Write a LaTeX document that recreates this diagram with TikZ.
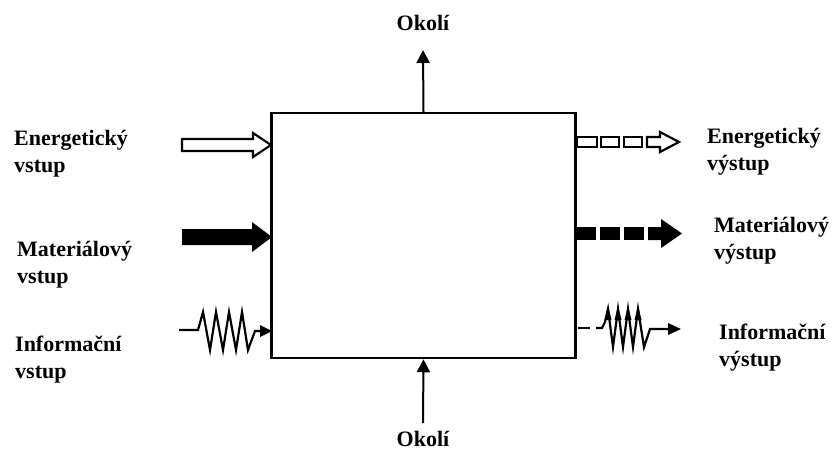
\documentclass[tikz,border=0pt]{standalone}
\usepackage{fontspec}
\setmainfont{Liberation Serif}
\usetikzlibrary{arrows.meta}
\begin{document}
\begin{tikzpicture}[x=1pt,y=-1pt,
  lbl/.style={anchor=base west,inner sep=0pt,align=left,font=\fontsize{22}{27}\selectfont\bfseries},
  envlbl/.style={anchor=base,inner sep=0pt,font=\fontsize{22}{27}\selectfont\bfseries},
  thin arrow/.style={line width=2pt,-{Triangle[length=13pt,width=13pt]}},
  wave/.style={line width=2.2pt,line join=miter},
  hollow/.style={draw=black,line width=2.2pt,fill=white},
  solid/.style={fill=black}]
\useasboundingbox (0,0) rectangle (833,459);
% system box
\node[draw,line width=2.5pt,minimum width=304pt,minimum height=245pt,inner sep=0pt] (sys) at (423.5,235.5) {};
% labels (base anchor = baseline of the last line)
\node[envlbl] (okTop) at (423,30) {Okolí};
\node[envlbl] (okBot) at (423,446) {Okolí};
\node[lbl] (enIn) at (14,172) {Energetický\\vstup};
\node[lbl] (maIn) at (17,283) {Materiálový\\vstup};
\node[lbl] (inIn) at (15,378) {Informační\\vstup};
\node[lbl] (enOut) at (707,170) {Energetický\\výstup};
\node[lbl] (maOut) at (714,259) {Materiálový\\výstup};
\node[lbl] (inOut) at (719,366) {Informační\\výstup};
% environment arrows
\coordinate (topTip) at (423,50);
\coordinate (botStart) at (423,423);
\draw[thin arrow] (sys.north) -- (topTip);
\draw[thin arrow] (botStart) -- (sys.south);
% energetic input (hollow)
\draw[hollow] (182,139) -- (253,139) -- (253,133) -- (271,145) -- (253,157) -- (253,151) -- (182,151) -- cycle;
% material input (solid)
\fill[solid] (182,229) -- (252,229) -- (252,222) -- (272,237) -- (252,252) -- (252,245) -- (182,245) -- cycle;
% information input (zigzag)
\draw[wave] (179,330) -- (198,330) -- (203,312) -- (210,350) -- (216,312) -- (223,350) -- (229,312) -- (236,350) -- (242,312) -- (248,350) -- (255,331) -- (262,331);
\fill (260,325) -- (272,331) -- (260,337) -- cycle;
% energetic output (dashed hollow)
\draw[hollow] (577,137) rectangle (597,147);
\draw[hollow] (601,137) rectangle (619,147);
\draw[hollow] (624,137) rectangle (642,147);
\draw[hollow] (647,137) -- (660,137) -- (660,132) -- (679,142) -- (660,152) -- (660,147) -- (647,147) -- cycle;
% material output (dashed solid)
\fill[solid] (576,227) rectangle (596,240);
\fill[solid] (600,227) rectangle (620,240);
\fill[solid] (624,227) rectangle (644,240);
\fill[solid] (648,227) -- (661,227) -- (661,219) -- (682,233.5) -- (661,248) -- (661,240) -- (648,240) -- cycle;
% information output (dashed + zigzag)
\draw[wave] (578,328) -- (590,328);
\draw[wave] (596,328) -- (602,328) -- (605,322);
\draw[wave] (605,322) -- (608,309) -- (613,347) -- (618,309) -- (623,347) -- (628,309) -- (633,347) -- (638,309) -- (644,347) -- (650,329) -- (670,329);
\foreach \px in {608,618,628,638} \fill (\px-3.5,320) -- (\px,306) -- (\px+3.5,320) -- cycle;
\fill (668,323) -- (681,329) -- (668,335) -- cycle;
\end{tikzpicture}
\end{document}
